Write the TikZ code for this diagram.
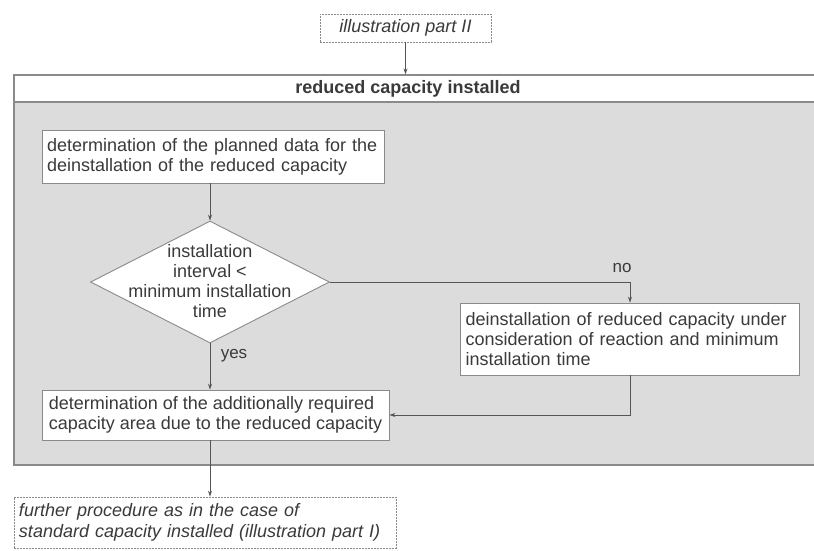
\documentclass[tikz,border=0pt]{standalone}
\usepackage{fontspec}
\setmainfont{Liberation Sans}
\usetikzlibrary{shapes.geometric,arrows.meta,calc}
\definecolor{txt}{HTML}{3A3A3A}
\definecolor{ln}{HTML}{555555}
\definecolor{bg}{HTML}{DCDCDC}
\definecolor{fr}{HTML}{8A8A8A}
\begin{document}
\begin{tikzpicture}[x=1pt,y=-1pt,
  every node/.style={font=\fontsize{18}{20}\selectfont, text=txt},
  procbox/.style={draw=fr, fill=white, line width=0.9pt, inner sep=5pt, align=left, anchor=center},
  refbox/.style={draw=fr, dash pattern=on 1.6pt off 1.4pt, line width=0.8pt, fill=white, align=left, font=\fontsize{18}{20.5}\selectfont\itshape},
  conn/.style={draw=ln, line width=0.8pt},
  arr/.style={conn, -{Stealth[length=6pt,width=4pt]}},
  lbl/.style={font=\fontsize{17}{18}\selectfont}
]
\useasboundingbox (0,0) rectangle (814,551);
\fill[white] (0,0) rectangle (814,551);

% outer frame
\node[draw=fr, fill=bg, line width=1.2pt, minimum width=808pt, minimum height=390pt, inner sep=0pt] (frame) at (418,270) {};
\node[draw=fr, fill=white, line width=1.2pt, minimum width=808pt, minimum height=27pt, inner sep=0pt] (head) at (418,88.5) {};
\node[font=\fontsize{18}{20}\selectfont\bfseries] (headtxt) at (408,88.5) {reduced capacity installed};

% top reference
\node[refbox, minimum width=171pt, minimum height=28pt, align=center] (top) at (405.5,28) {illustration part II};

% boxes
\node[procbox, minimum width=342pt, minimum height=53pt, text width=332pt] (b1) at (213,156.5)
  {determination of the planned data for the\\deinstallation of the reduced capacity};
\node[diamond, draw=fr, fill=white, line width=0.9pt, minimum width=239pt, minimum height=122pt, inner sep=0pt] (d) at (210,282) {};
\node[align=center] (dtxt) at (210,281) {installation\\interval <\\minimum installation\\time};
\node[procbox, minimum width=339pt, minimum height=72pt, text width=329pt] (b2) at (630,339)
  {deinstallation of reduced capacity under\\consideration of reaction and minimum\\installation time};
\node[procbox, minimum width=347pt, minimum height=50pt, inner xsep=4pt] (b3) at (215.5,415)
  {determination of the additionally required\\capacity area due to the reduced capacity};
\node[refbox, minimum width=382pt, minimum height=51pt, text width=372pt, inner sep=5pt] (b4) at (205,522.5)
  {further procedure as in the case of\\standard capacity installed (illustration part I)};

% connectors
\draw[arr] (top.south) -- (top.south |- head.north);
\draw[arr] (b1.south -| d.north) -- (d.north);
\draw[arr] (d.east) -| (b2.north);
\draw[arr] (d.south) -- (d.south |- b3.north);
\draw[arr] (b2.south) |- (b3.east);
\draw[arr] (d.south |- b3.south) -- (d.south |- b4.north);

% labels
\node[lbl] (no) at (622,268) {no};
\node[lbl] (yes) at (234,356) {yes};
\end{tikzpicture}
\end{document}
